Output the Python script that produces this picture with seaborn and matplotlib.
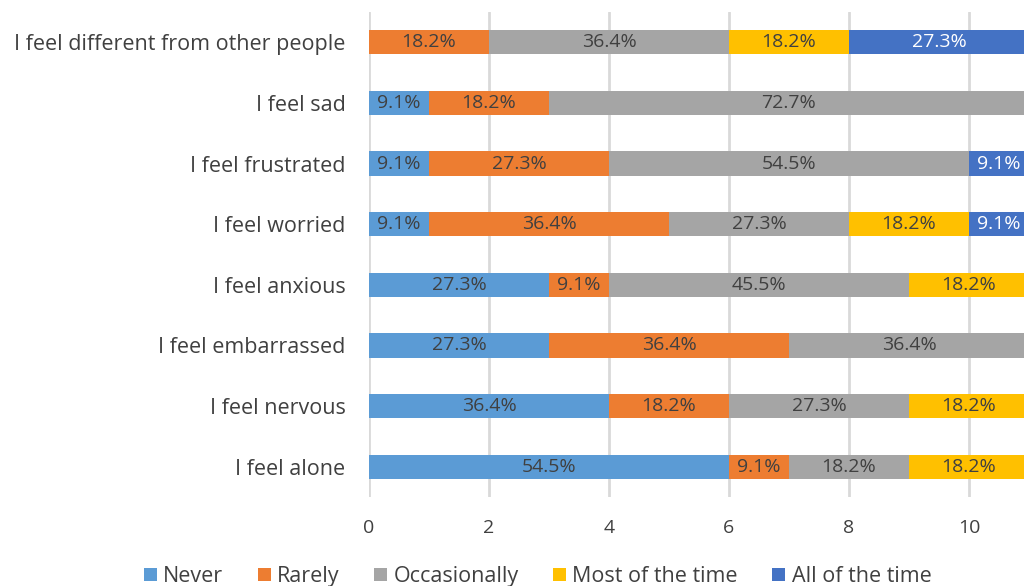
import numpy as np
import pandas as pd
import matplotlib
matplotlib.use("Agg")
import matplotlib.pyplot as plt
import seaborn as sns
from matplotlib.patches import Patch

# -------------------------------------------
# DATA (number of respondents, n = 11)
# -------------------------------------------
questions = ["I feel different from other people", "I feel sad", "I feel frustrated",
             "I feel worried", "I feel anxious", "I feel embarrassed",
             "I feel nervous", "I feel alone"]
responses = ["Never", "Rarely", "Occasionally", "Most of the time", "All of the time"]
never        = [0, 1, 1, 1, 3, 3, 4, 6]
rarely       = [2, 2, 3, 4, 1, 4, 2, 1]
occasionally = [4, 8, 6, 3, 5, 4, 3, 2]
most_time    = [2, 0, 0, 2, 2, 0, 2, 2]
all_time     = [3, 0, 1, 1, 0, 0, 0, 0]
n_resp = 11

colors = ["#5B9BD5", "#ED7D31", "#A5A5A5", "#FFC000", "#4472C4"]
text_colors = ["#404040", "#404040", "#404040", "#404040", "#FFFFFF"]

df = pd.DataFrame({"Question": questions, "Never": never, "Rarely": rarely,
                   "Occasionally": occasionally, "Most of the time": most_time,
                   "All of the time": all_time})
cum = df[responses].cumsum(axis=1)

# -------------------------------------------
# PLOT
# -------------------------------------------
sns.set_theme(style="white")
plt.rcParams["font.family"] = ["Open Sans", "DejaVu Sans"]

fig = plt.figure(figsize=(10.24, 5.86), dpi=100)
ax = fig.add_axes([369 / 1024, 89 / 586, 720 / 1024, 485 / 586])

# stacked bars: draw cumulative totals from the largest down
for i in range(len(responses) - 1, -1, -1):
    sns.barplot(x=cum[responses[i]], y=df["Question"], color=colors[i],
                orient="h", width=0.4, linewidth=0, saturation=1, ax=ax, zorder=2)

# segment labels
for i, r in enumerate(responses):
    for j, v in enumerate(df[r]):
        if v == 0:
            continue
        center = cum[r].iloc[j] - v / 2
        ax.text(center, j, f"{v / n_resp * 100:.1f}%", ha="center", va="center",
                fontsize=14, color=text_colors[i], zorder=3)

ax.set_xlim(0, 12)
ax.set_ylim(7.5, -0.5)
ax.set_xticks(range(0, 11, 2))
ax.xaxis.grid(True, color="#D9D9D9", linewidth=2)
ax.set_axisbelow(True)
sns.despine(ax=ax, left=True, bottom=True)
ax.set_xlabel("")
ax.set_ylabel("")
ax.tick_params(axis="y", length=0, pad=17, labelsize=15.5, labelcolor="#404040")
ax.tick_params(axis="x", length=0, pad=16, labelsize=14, labelcolor="#404040")

handles = [Patch(facecolor=c, edgecolor="none") for c in colors]
fig.legend(handles, responses, loc="lower center", bbox_to_anchor=(0.525, -0.035),
           ncol=5, frameon=False, fontsize=15.5, handlelength=0.6, handleheight=0.6,
           handletextpad=0.3, columnspacing=1.6, labelcolor="#404040")

fig.savefig("out.png", dpi=100)
